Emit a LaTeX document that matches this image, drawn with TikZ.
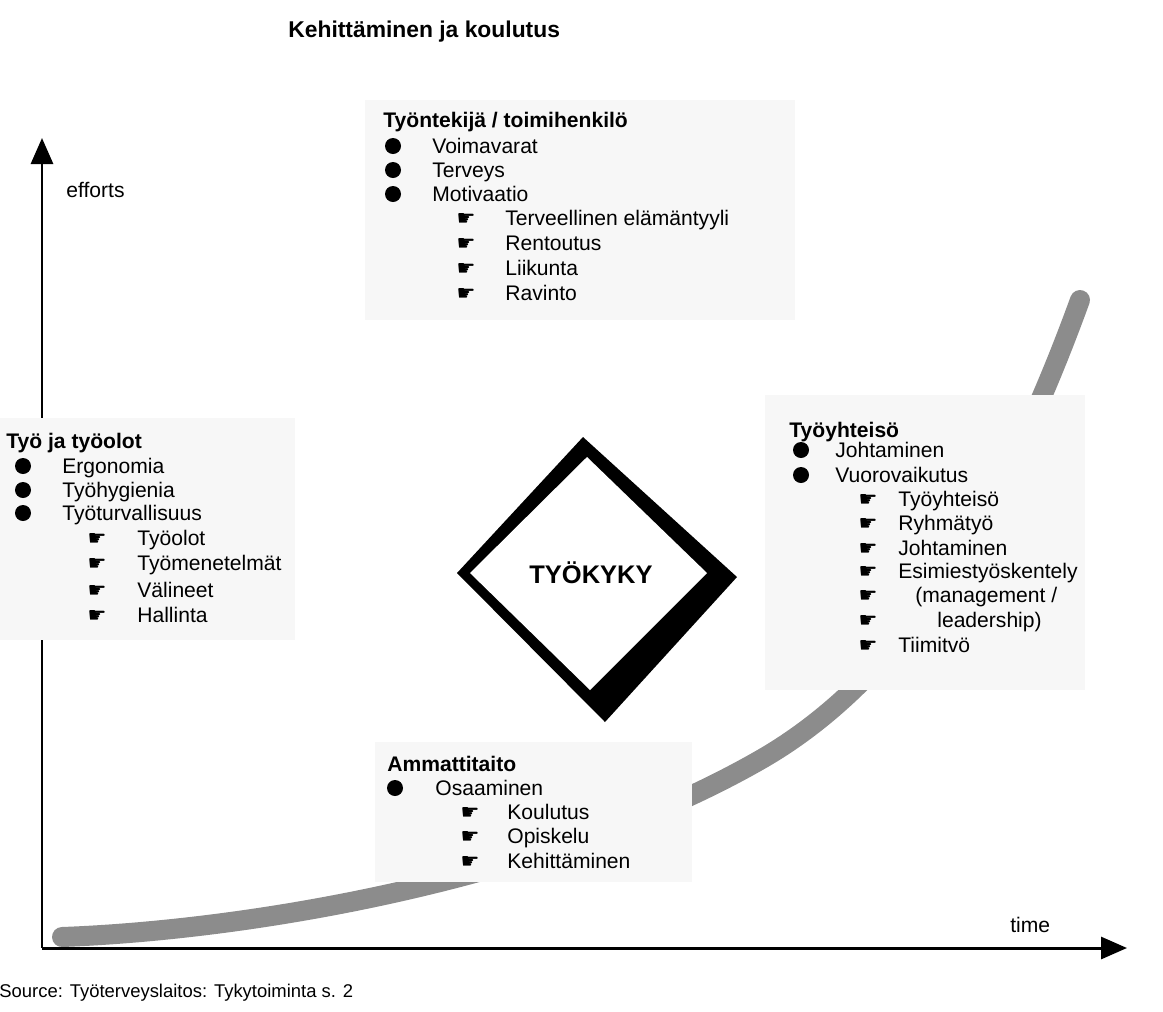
\documentclass[tikz,border=0pt]{standalone}
\usepackage{fontspec}
\setmainfont{Liberation Sans}
\newfontfamily\handfont{DejaVu Sans}
\usetikzlibrary{arrows.meta}

\tikzset{
	head/.style={anchor=base west,inner sep=0pt,font=\bfseries\fontsize{12}{14}\selectfont},
	item/.style={anchor=base west,inner sep=0pt,font=\fontsize{12}{14}\selectfont},
	dot/.style={circle,fill=black,minimum size=3.2mm,inner sep=0pt},
	hand/.style={inner sep=0pt,font=\handfont\fontsize{12}{14}\selectfont},
	panel/.style={fill=black!3},
	band/.style={line width=4mm,black!45,line cap=round},
	axis/.style={line width=1.7pt,-{Triangle[length=5.2mm,width=4.4mm]}}
}

\begin{document}
\begin{tikzpicture}[x=0.2mm,y=-0.2mm]
	\useasboundingbox (0,0) rectangle (1163,1011);
	% growth curve
	\draw[band] (62,937) .. controls (250,930) and (550,880) .. (760,760) .. controls (900,680) and (1000,520) .. (1080,300);
	% axes
	\coordinate (O) at (42,948);
	\coordinate (ytip) at (42,138);
	\coordinate (xtip) at (1127,948);
	\draw[axis] (O) -- (ytip);
	\draw[axis] (O) -- (xtip);
	% panels
	\fill[panel] (365,100) rectangle (795,320);
	\fill[panel] (0,418) rectangle (295,640);
	\fill[panel] (765,395) rectangle (1085,690);
	\fill[panel] (375,742) rectangle (692,882);
	% diamond
	\fill (583,437) -- (737,577) -- (605,722) -- (457,573) -- cycle;
	\fill[white] (587,457) -- (707,573) -- (590,690) -- (470,573) -- cycle;
	\node[inner sep=0pt,font=\bfseries\fontsize{14.5}{16}\selectfont] (tyokyky) at (591,573) {TYÖKYKY};
	% labels
	\node[head,font=\bfseries\fontsize{13}{15}\selectfont] (title) at (288,37) {Kehittäminen ja koulutus};
	\node[item] (efforts) at (66,197) {efforts};
	\node[item] (time) at (1010,932) {time};
	\node[item,font=\fontsize{10.5}{12}\selectfont] (source) at (-1,997) {Source: Työterveyslaitos: Tykytoiminta s. 2};
	% tyontekija
	\node[head] (tth) at (383,127) {Työntekijä / toimihenkilö};
	\node[dot] (td1) at (393,146) {}; \node[item] (ti1) at (432,153) {Voimavarat};
	\node[dot] (td2) at (393,170) {}; \node[item] (ti2) at (432,177) {Terveys};
	\node[dot] (td3) at (393,194) {}; \node[item] (ti3) at (432,201) {Motivaatio};
	\node[hand] (th1) at (466,219) {☛}; \node[item] (ts1) at (505,225) {Terveellinen elämäntyyli};
	\node[hand] (th2) at (466,244) {☛}; \node[item] (ts2) at (505,250) {Rentoutus};
	\node[hand] (th3) at (466,269) {☛}; \node[item] (ts3) at (505,275) {Liikunta};
	\node[hand] (th4) at (466,294) {☛}; \node[item] (ts4) at (505,300) {Ravinto};
	% tyo ja tyoolot
	\node[head] (wh) at (6,448) {Työ ja työolot};
	\node[dot] (wd1) at (23,466) {}; \node[item] (wi1) at (62,473) {Ergonomia};
	\node[dot] (wd2) at (23,490) {}; \node[item] (wi2) at (62,497) {Työhygienia};
	\node[dot] (wd3) at (23,513) {}; \node[item] (wi3) at (62,520) {Työturvallisuus};
	\node[hand] (wh1) at (97,539) {☛}; \node[item] (ws1) at (137,545) {Työolot};
	\node[hand] (wh2) at (97,564) {☛}; \node[item] (ws2) at (137,570) {Työmenetelmät};
	\node[hand] (wh3) at (97,591) {☛}; \node[item] (ws3) at (137,597) {Välineet};
	\node[hand] (wh4) at (97,616) {☛}; \node[item] (ws4) at (137,622) {Hallinta};
	% tyoyhteiso
	\node[head] (yh) at (789,437) {Työyhteisö};
	\node[dot] (yd1) at (801,450) {}; \node[item] (yi1) at (835,457) {Johtaminen};
	\node[dot] (yd2) at (801,475) {}; \node[item] (yi2) at (835,482) {Vuorovaikutus};
	\node[hand] (yh1) at (868,500) {☛}; \node[item] (ys1) at (898,506) {Työyhteisö};
	\node[hand] (yh2) at (868,524) {☛}; \node[item] (ys2) at (898,530) {Ryhmätyö};
	\node[hand] (yh3) at (868,549) {☛}; \node[item] (ys3) at (898,555) {Johtaminen};
	\node[hand] (yh4) at (868,572) {☛}; \node[item] (ys4) at (898,578) {Esimiestyöskentely};
	\node[hand] (yh5) at (868,596) {☛}; \node[item] (ys5) at (915,602) {(management /};
	\node[hand] (yh6) at (868,621) {☛}; \node[item] (ys6) at (937,627) {leadership)};
	\node[hand] (yh7) at (868,646) {☛}; \node[item] (ys7) at (898,652) {Tiimitvö};
	% ammattitaito
	\node[head] (ah) at (387,771) {Ammattitaito};
	\node[dot] (ad1) at (395,788) {}; \node[item] (ai1) at (435,795) {Osaaminen};
	\node[hand] (ah1) at (470,813) {☛}; \node[item] (as1) at (507,819) {Koulutus};
	\node[hand] (ah2) at (470,837) {☛}; \node[item] (as2) at (507,843) {Opiskelu};
	\node[hand] (ah3) at (470,862) {☛}; \node[item] (as3) at (507,868) {Kehittäminen};
\end{tikzpicture}
\end{document}
